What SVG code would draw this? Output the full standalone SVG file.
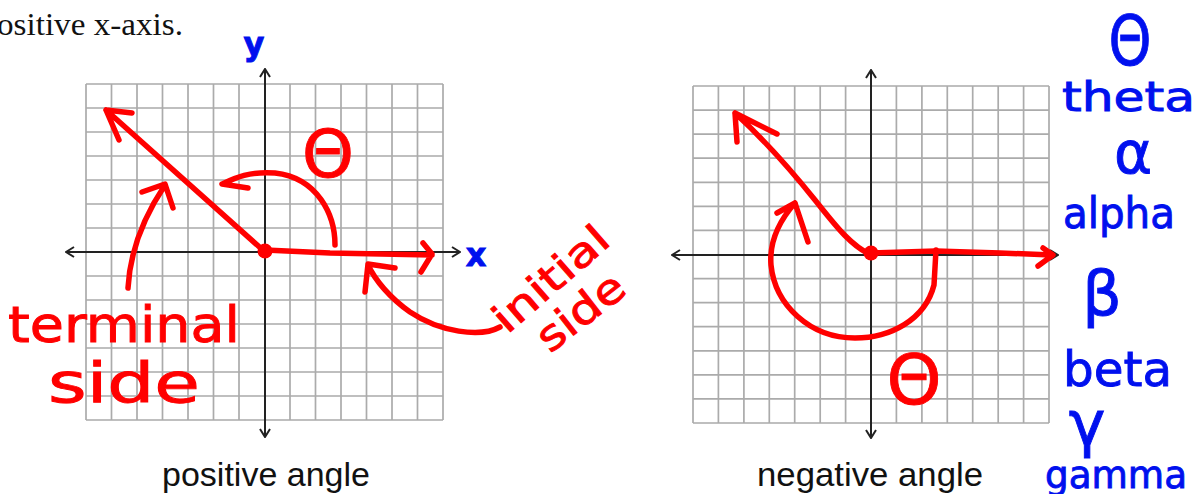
<svg xmlns="http://www.w3.org/2000/svg" width="1197" height="494" viewBox="0 0 1197 494">
<style>
.grid{fill:none;stroke:#ababab;stroke-width:1.7}
.axis{fill:none;stroke:#222;stroke-width:2}
.red{fill:none;stroke:#ff0000;stroke-width:5.5;stroke-linecap:round;stroke-linejoin:round}
.hr{fill:#ff0000;stroke:#ff0000;stroke-width:0.9;font-family:"DejaVu Sans",sans-serif}
.hb{fill:#0010ee;stroke:#0010ee;stroke-width:0.9;font-family:"DejaVu Sans",sans-serif}
.cap{fill:#111;font-family:"Liberation Sans",Arial,sans-serif;font-size:33px}
</style>
<defs>
<marker id="ah" viewBox="0 0 10 12" refX="9" refY="6" markerWidth="10" markerHeight="12" markerUnits="userSpaceOnUse" orient="auto-start-reverse">
<path d="M1,1 L9,6 L1,11" fill="none" stroke="#222" stroke-width="2"/>
</marker>
</defs>
<rect width="1197" height="494" fill="#fff"/>
<text x="-3" y="35" font-family="Liberation Serif,serif" font-size="31" fill="#111" textLength="186" lengthAdjust="spacingAndGlyphs">ositive x-axis.</text>

<g id="left-graph">
<path class="grid" d="M86,84V420 M111.5,84V420 M137,84V420 M162.5,84V420 M188,84V420 M213.5,84V420 M239,84V420 M290,84V420 M315.5,84V420 M341,84V420 M366.5,84V420 M392,84V420 M417.5,84V420 M443,84V420
M86,84H443 M86,108H443 M86,132H443 M86,156H443 M86,180H443 M86,204H443 M86,228H443 M86,276H443 M86,300H443 M86,324H443 M86,348H443 M86,372H443 M86,396H443 M86,420H443"/>
<line class="axis" x1="66" y1="252" x2="460" y2="252" marker-start="url(#ah)" marker-end="url(#ah)"/>
<line class="axis" x1="265" y1="69" x2="265" y2="437" marker-start="url(#ah)" marker-end="url(#ah)"/>
<text class="hb" x="254" y="55" font-size="32" text-anchor="middle" font-weight="bold">y</text>
<text class="hb" x="476" y="266" font-size="32" text-anchor="middle" font-weight="bold">x</text>
</g>

<g id="left-angle">
<path class="red" d="M265,252 L106,110 M132,113 L106,110 L119,140"/>
<path class="red" d="M265,250 L330,253 L432,255 M423,243 L432,254 L421,272"/>
<path class="red" d="M335,245 C335,215 318,178 275,173 C250,171 235,178 222,184 L248,188"/>
<circle cx="265" cy="251" r="7.5" fill="#ff0000"/>
<text class="hr" x="328" y="177" font-size="66" text-anchor="middle">Θ</text>
</g>

<g id="terminal-label">
<path class="red" d="M128,288 C130,250 145,215 165,185 M142,192 L165,184 L173,208"/>
<text class="hr" x="8" y="342" font-size="50" textLength="232" lengthAdjust="spacingAndGlyphs">terminal</text>
<text class="hr" x="48" y="402" font-size="56" textLength="152" lengthAdjust="spacingAndGlyphs">side</text>
</g>

<g id="initial-label">
<path class="red" d="M500,327 C480,338 440,332 410,312 C390,298 375,280 368,265 M395,268 L368,264 L365,292"/>
<text class="hr" x="507" y="335" font-size="40" textLength="140" lengthAdjust="spacingAndGlyphs" transform="rotate(-41 507 335)">initial</text>
<text class="hr" x="550" y="354" font-size="42" textLength="100" lengthAdjust="spacingAndGlyphs" transform="rotate(-38 550 354)">side</text>
</g>

<g id="right-graph">
<path class="grid" d="M693,86V423 M718.4,86V423 M743.9,86V423 M769.3,86V423 M794.7,86V423 M820.2,86V423 M845.6,86V423 M896.4,86V423 M921.9,86V423 M947.3,86V423 M972.7,86V423 M998.2,86V423 M1023.6,86V423 M1049,86V423
M693,86H1049 M693,110.1H1049 M693,134.1H1049 M693,158.2H1049 M693,182.3H1049 M693,206.4H1049 M693,230.4H1049 M693,278.6H1049 M693,302.6H1049 M693,326.7H1049 M693,350.8H1049 M693,374.8H1049 M693,398.9H1049 M693,423H1049"/>
<line class="axis" x1="672" y1="255" x2="1058" y2="255" marker-start="url(#ah)" marker-end="url(#ah)"/>
<line class="axis" x1="871" y1="70" x2="871" y2="438" marker-start="url(#ah)" marker-end="url(#ah)"/>
</g>

<g id="right-angle">
<path class="red" d="M871,255 C850,245 835,225 815,200 C795,175 770,145 735,113 M737,142 L735,113 L777,134"/>
<path class="red" d="M871,253 L936,251 L1000,253 L1052,255 M1043,248 L1053,255 L1038,266"/>
<path class="red" d="M936,250 L934,285 C925,320 890,338 855,338 C810,338 775,305 771,265 C769,240 780,220 795,203 M777,213 L795,203 L808,242"/>
<circle cx="871" cy="253" r="7.5" fill="#ff0000"/>
<text class="hr" x="914" y="404" font-size="70" text-anchor="middle">Θ</text>
</g>

<g id="captions">
<text class="cap" x="162" y="486" textLength="208" lengthAdjust="spacingAndGlyphs">positive angle</text>
<text class="cap" x="757" y="486" textLength="226" lengthAdjust="spacingAndGlyphs">negative angle</text>
</g>

<g id="greek-notes">
<text class="hb" transform="translate(1130,65) scale(0.78,1)" font-size="70" text-anchor="middle">Θ</text>
<text class="hb" x="1062" y="111" font-size="40" textLength="133" lengthAdjust="spacingAndGlyphs">theta</text>
<text class="hb" x="1133" y="173" font-size="58" text-anchor="middle">α</text>
<text class="hb" x="1063" y="228" font-size="42" textLength="112" lengthAdjust="spacingAndGlyphs">alpha</text>
<text class="hb" x="1102" y="315" font-size="62" text-anchor="middle">β</text>
<text class="hb" x="1063" y="386" font-size="48" textLength="109" lengthAdjust="spacingAndGlyphs">beta</text>
<text class="hb" x="1087" y="445" font-size="62" text-anchor="middle">γ</text>
<text class="hb" x="1045" y="488" font-size="38" textLength="142" lengthAdjust="spacingAndGlyphs">gamma</text>
</g>
</svg>
